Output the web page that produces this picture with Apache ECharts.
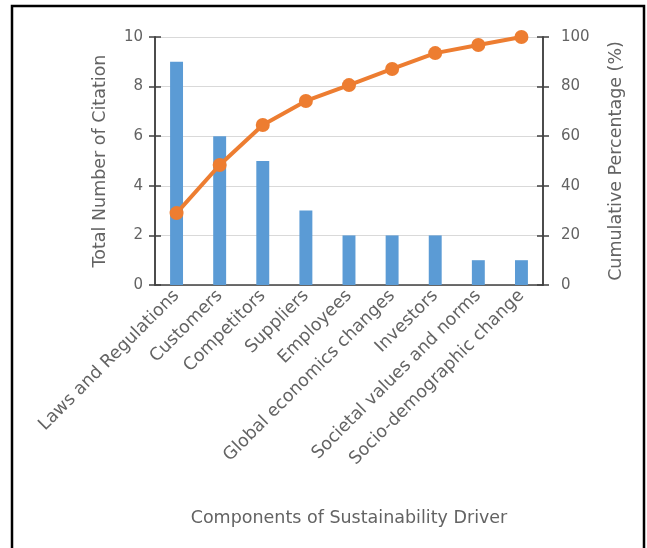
<!DOCTYPE html>
<html>
<head>
<meta charset="utf-8">
<style>
  html, body { margin: 0; padding: 0; background: #fff; }
  #chart { width: 647px; height: 548px; }
</style>
<script src="https://cdn.jsdelivr.net/npm/echarts@6/dist/echarts.min.js"></script>
</head>
<body>
<div id="chart"></div>
<script>
// Components of sustainability driver and their citation counts
const categories = [
  'Laws and Regulations', 'Customers', 'Competitors', 'Suppliers', 'Employees',
  'Global economics changes', 'Investors', 'Societal values and norms',
  'Socio-demographic change'
];
const citations = [9, 6, 5, 3, 2, 2, 2, 1, 1];
const cumulativePct = [29.0, 48.4, 64.5, 74.2, 80.6, 87.1, 93.5, 96.8, 100];
const leftTicks = [0, 2, 4, 6, 8, 10];
const rightTicks = [0, 20, 40, 60, 80, 100];

const textColor = '#636363';
const axisColor = '#404040';
const fontFamily = '"DejaVu Sans", sans-serif';
const wordSize = 17.5;

const chart = echarts.init(document.getElementById('chart'), null, { renderer: 'canvas' });

// Tick marks cross the axis line: one axis draws them outside, a twin draws them inside
function valueAxis(pos, max, interval, opts) {
  return Object.assign({
    type: 'value',
    position: pos,
    min: 0,
    max: max,
    interval: interval,
    axisLine: { show: true, lineStyle: { color: axisColor, width: 1.5 } },
    axisTick: { show: true, length: 6, lineStyle: { color: axisColor, width: 1.5 } },
    splitLine: { show: false },
    axisLabel: { show: false }
  }, opts);
}

chart.setOption({
  animation: false,
  backgroundColor: '#fff',
  graphic: [{
    type: 'rect',
    shape: { x: 12, y: 6, width: 632, height: 600 },
    style: { fill: 'none', stroke: '#000', lineWidth: 2.5 },
    silent: true
  }],
  grid: { left: 155, right: 104, top: 37, bottom: 263, containLabel: false },
  xAxis: {
    type: 'category',
    data: categories,
    axisLine: { show: true, lineStyle: { color: axisColor, width: 1.5 } },
    axisTick: { show: false },
    axisLabel: {
      rotate: 45,
      interval: 0,
      margin: 8,
      color: textColor,
      fontFamily: fontFamily,
      fontSize: wordSize
    },
    name: 'Components of Sustainability Driver',
    nameLocation: 'middle',
    nameGap: 224,
    nameTextStyle: { color: textColor, fontFamily: fontFamily, fontSize: wordSize }
  },
  yAxis: [
    valueAxis('left', 10, 2, {
      name: 'Total Number of Citation',
      nameLocation: 'middle',
      nameGap: 46,
      nameTextStyle: { color: textColor, fontFamily: fontFamily, fontSize: wordSize },
      splitLine: { show: true, lineStyle: { color: '#D9D9D9', width: 1 } },
      axisLabel: {
        show: true, margin: 12, color: textColor, fontFamily: fontFamily, fontSize: 15,
        formatter: v => leftTicks.includes(v) ? String(v) : ''
      }
    }),
    valueAxis('right', 100, 20, {
      name: 'Cumulative Percentage (%)',
      nameLocation: 'middle',
      nameGap: 64,
      nameRotate: 90,
      nameTextStyle: { color: textColor, fontFamily: fontFamily, fontSize: wordSize },
      axisLabel: {
        show: true, margin: 18, color: textColor, fontFamily: fontFamily, fontSize: 15,
        formatter: v => rightTicks.includes(v) ? String(v) : ''
      }
    }),
    valueAxis('left', 10, 2, { axisTick: { show: true, inside: true, length: 6, lineStyle: { color: axisColor, width: 1.5 } } }),
    valueAxis('right', 100, 20, { axisTick: { show: true, inside: true, length: 6, lineStyle: { color: axisColor, width: 1.5 } } })
  ],
  series: [
    {
      type: 'bar',
      data: citations,
      yAxisIndex: 0,
      barWidth: '30%',
      itemStyle: { color: '#5B9BD5' }
    },
    {
      type: 'line',
      data: cumulativePct,
      yAxisIndex: 1,
      symbol: 'circle',
      symbolSize: 14,
      lineStyle: { color: '#ED7D31', width: 4 },
      itemStyle: { color: '#ED7D31' },
      z: 5
    }
  ]
});
</script>
</body>
</html>
